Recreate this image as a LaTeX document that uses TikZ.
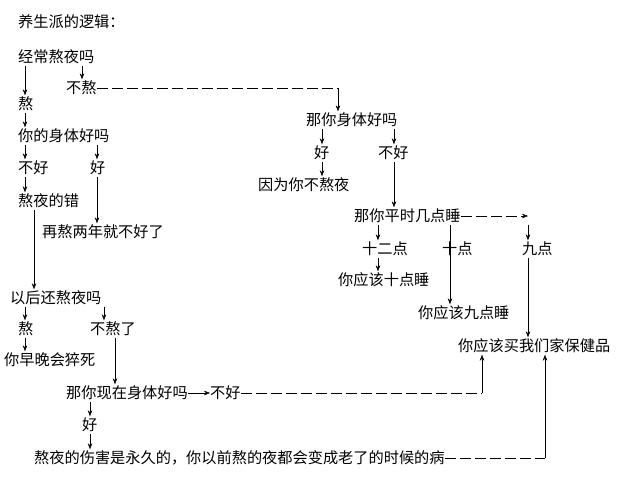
\documentclass[tikz,border=0pt]{standalone}
\usepackage{fontspec}
\setmainfont{Noto Sans CJK SC}
\usetikzlibrary{positioning,arrows.meta}
\tikzset{
  txt/.style={anchor=west,inner sep=0pt,minimum height=17pt,font=\fontsize{15.2}{15}\selectfont},
  arr/.style={-{Stealth[length=6pt,width=4.5pt]},thin},
  dashline/.style={thin,dash pattern=on 11pt off 4pt}
}
\begin{document}
\begin{tikzpicture}[x=1pt,y=-1pt]
		\useasboundingbox (0,0) rectangle (634,486);
		% left branch
		\node[txt] (title) at (18,22) {养生派的逻辑：};
		\node[txt] (often) at (18,57) {经常熬夜吗};
		\node[txt] (nostay) at (66,88) {不熬};
		\node[txt] (stay) at (18,104) {熬};
		\node[txt] (body) at (18,136) {你的身体好吗};
		\node[txt] (bad) at (18,168) {不好};
		\node[txt] (good) at (90,168) {好};
		\node[txt] (fault) at (18,201) {熬夜的错};
		\node[txt] (twoyr) at (42,232) {再熬两年就不好了};
		\node[txt] (later) at (10,298) {以后还熬夜吗};
		\node[txt] (stay2) at (18,329) {熬};
		\node[txt] (nostay2) at (90,329) {不熬了};
		\node[txt] (die) at (4,360) {你早晚会猝死};
		\node[txt] (now) at (66,393) {那你现在身体好吗};
		\node[txt] (nowbad) at (210,393) {不好};
		\node[txt] (nowgood) at (82,425) {好};
		\node[txt] (harm) at (34,458) {熬夜的伤害是永久的，你以前熬的夜都会变成老了的时候的病};
		% right branch
		\node[txt] (body2) at (306,120) {那你身体好吗};
		\node[txt] (good2) at (314,153) {好};
		\node[txt] (bad2) at (378,153) {不好};
		\node[txt] (because) at (258,185) {因为你不熬夜};
		\node[txt] (when) at (354,216) {那你平时几点睡};
		\node[txt] (twelve) at (362,249) {十二点};
		\node[txt] (ten) at (442,249) {十点};
		\node[txt] (nine) at (522,249) {九点};
		\node[txt] (sleepten) at (338,280) {你应该十点睡};
		\node[txt] (sleepnine) at (418,313) {你应该九点睡};
		\node[txt] (buy) at (458,346) {你应该买我们家保健品};
		\coordinate (c1) at (338,88);
		\coordinate (c2) at (528,216);
		\coordinate (c3) at (482,393);
		\coordinate (c4) at (545,458);
		% connectors
		\draw[arr] (often.south -| 25,0) -- (stay.north -| 25,0);
		\draw[arr] (often.south -| 82,0) -- (nostay.north -| 82,0);
		\draw[dashline] (nostay.east) -- (c1);
		\draw[arr] (c1) -- (body2.north -| c1);
		\draw[arr] (stay.south -| 25,0) -- (body.north -| 25,0);
		\draw[arr] (body.south -| 25,0) -- (bad.north -| 25,0);
		\draw[arr] (body.south -| 97,0) -- (good.north -| 97,0);
		\draw[arr] (bad.south -| 25,0) -- (fault.north -| 25,0);
		\draw[arr] (good.south -| 97,0) -- (twoyr.north -| 97,0);
		\draw[arr] (fault.south -| 34,0) -- (later.north -| 34,0);
		\draw[arr] (later.south -| 25,0) -- (stay2.north -| 25,0);
		\draw[arr] (later.south -| 104,0) -- (nostay2.north -| 104,0);
		\draw[arr] (stay2.south -| 25,0) -- (die.north -| 25,0);
		\draw[arr] (nostay2.south -| 115,0) -- (now.north -| 115,0);
		\draw[arr] (now.east) -- (nowbad.west);
		\draw[arr] (now.south -| 90,0) -- (nowgood.north -| 90,0);
		\draw[arr] (nowgood.south -| 90,0) -- (harm.north -| 90,0);
		\draw[dashline] (nowbad.east) -- (c3);
		\draw[arr] (c3) -- (buy.south -| c3);
		\draw[dashline] (harm.east) -- (c4);
		\draw[arr] (c4) -- (buy.south -| c4);
		\draw[arr] (body2.south -| 322,0) -- (good2.north -| 322,0);
		\draw[arr] (body2.south -| 394,0) -- (bad2.north -| 394,0);
		\draw[arr] (good2.south -| 322,0) -- (because.north -| 322,0);
		\draw[arr] (bad2.south -| 394,0) -- (when.north -| 394,0);
		\draw[dashline,arr] (when.east) -- (c2);
		\draw[arr] (when.south -| 378,0) -- (twelve.north -| 378,0);
		\draw[arr] (twelve.south -| 378,0) -- (sleepten.north -| 378,0);
		\draw[arr] (when.south -| 450,0) -- (sleepnine.north -| 450,0);
		\draw[arr] (when.south -| c2) -- (nine.north -| c2);
		\draw[arr] (nine.south -| c2) -- (buy.north -| c2);
\end{tikzpicture}
\end{document}
